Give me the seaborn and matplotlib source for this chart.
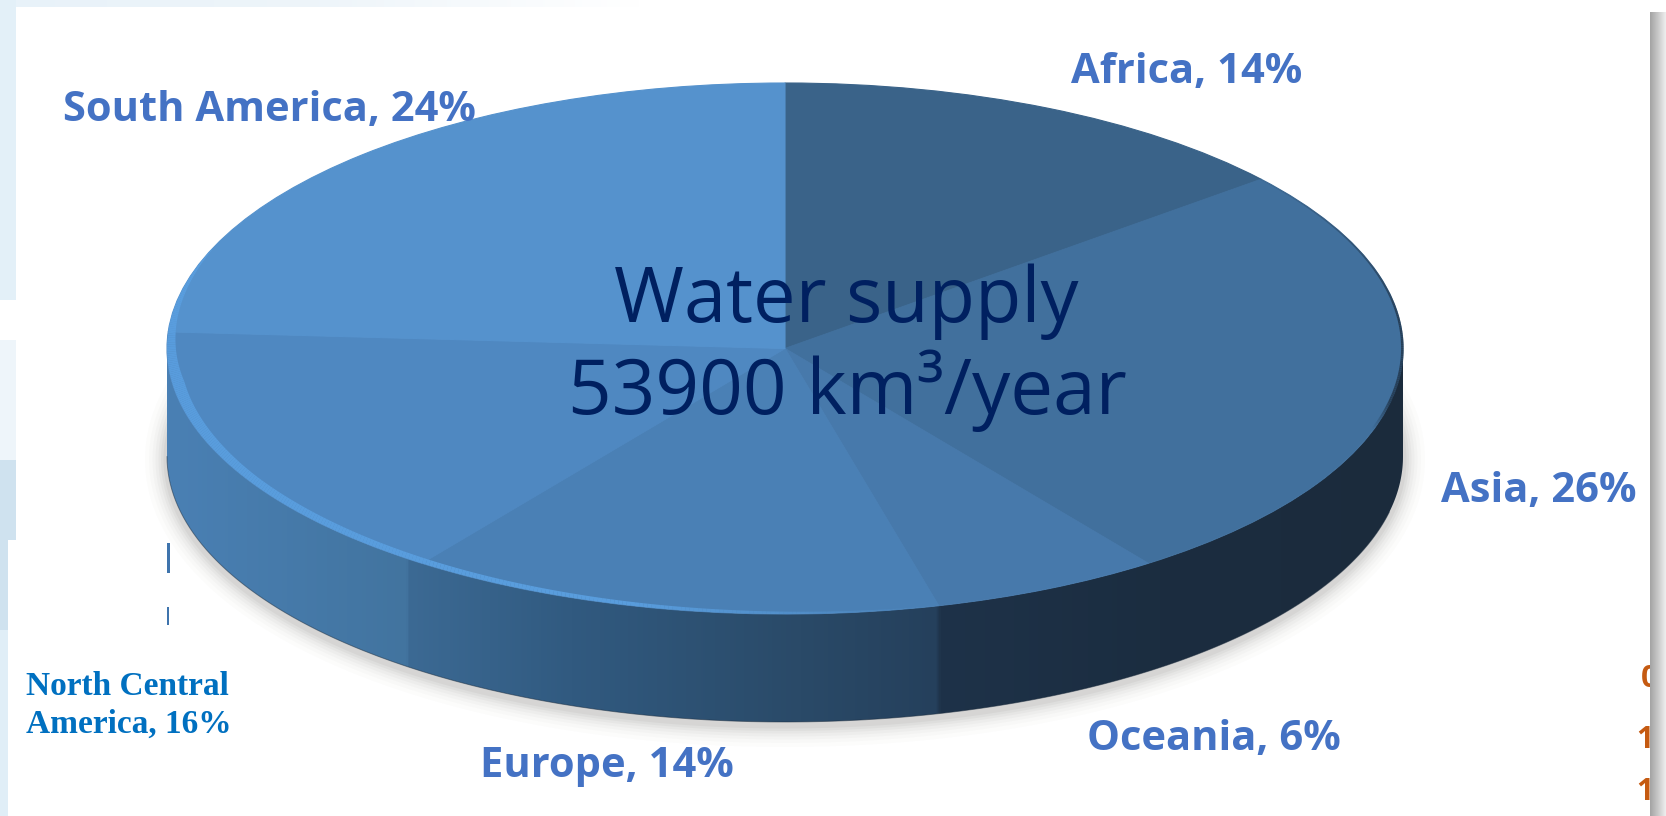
import numpy as np
import pandas as pd
import seaborn as sns
import matplotlib
matplotlib.use("Agg")
import matplotlib.pyplot as plt
from matplotlib.colors import LinearSegmentedColormap
from matplotlib.patches import Polygon, Rectangle
from matplotlib.collections import LineCollection

# ---- data
categories = ["Africa", "Asia", "Oceania", "Europe", "North Central\nAmerica", "South America"]
shares = [14, 26, 6, 14, 16, 24]
center_lines = ["Water supply", "53900 km³/year"]

sns.set_theme(style="white")
plt.rcParams["font.family"] = ["Open Sans", "DejaVu Sans"]

df = pd.DataFrame({"region": categories, "share": shares})

W, H = 1666, 816
CX, CY, RX, RY, DEPTH = 785, 348.5, 618, 265.5, 108


def px_axes(fig, z):
    ax = fig.add_axes([0, 0, 1, 1], zorder=z)
    ax.set_xlim(0, W)
    ax.set_ylim(H, 0)
    ax.axis("off")
    ax.patch.set_alpha(0)
    return ax


def ell(theta_deg, dy=0, k=1.0):
    t = np.radians(theta_deg)
    return CX + k * RX * np.sin(t), CY + dy - k * RY * np.cos(t)


fig = plt.figure(figsize=(W / 100, H / 100), dpi=100, facecolor="white")

# ---- page background
bg = px_axes(fig, 0)
top_cmap = sns.blend_palette(["#e8f2f9", "#eef5fa", "#ffffff"], as_cmap=True)
bg.imshow(np.linspace(0, 1, 256)[None, :], extent=(0, 640, 7, 0), cmap=top_cmap,
          aspect="auto", zorder=1)
bg.add_patch(Rectangle((0, 0), 16, 300, color="#e3f0f8", lw=0, zorder=1))
bg.add_patch(Rectangle((0, 340), 16, 120, color="#eef5fa", lw=0, zorder=1))
bg.add_patch(Rectangle((0, 460), 16, 80, color="#cfe2ef", lw=0, zorder=1))
bg.add_patch(Rectangle((0, 540), 8, 90, color="#cfe2ef", lw=0, zorder=1))
bg.add_patch(Rectangle((0, 630), 8, 186, color="#e0eef7", lw=0, zorder=1))
bg.set_xlim(0, W)
bg.set_ylim(H, 0)

# ---- soft shadow under the puck
th = np.linspace(72, 288, 300)
sx, sy = ell(th, dy=DEPTH)
for lw, a in zip([44, 36, 29, 23, 17, 12, 7], [.02, .025, .03, .04, .05, .06, .07]):
    bg.plot(sx, sy + 3, color="#6e6a64", lw=lw * 0.72, alpha=a, solid_capstyle="round", zorder=2)

# ---- side wall of the puck, shaded across its width
th = np.linspace(90, 270, 300)
tx, ty = ell(th)
bx, by = ell(th, dy=DEPTH)
wall = Polygon(np.r_[np.c_[tx, ty], np.c_[bx, by][::-1]], closed=True,
               transform=bg.transData, fc="none", ec="none")
bg.add_patch(wall)
wall_px = [166, 405, 407, 570, 800, 935, 940, 1160, 1402]
wall_hex = ["#4a80b4", "#42749f", "#3c6a94", "#315a80", "#2a4a68", "#25405c", "#1e3249", "#1b2d40", "#1b2b3c"]
wall_cmap = LinearSegmentedColormap.from_list(
    "wall", [((p - wall_px[0]) / (wall_px[-1] - wall_px[0]), c) for p, c in zip(wall_px, wall_hex)], N=1024)
im = bg.imshow(np.linspace(0, 1, 1236)[None, :], extent=(CX - RX, CX + RX, CY + RY + DEPTH + 2, CY - 2),
               cmap=wall_cmap, aspect="auto", zorder=3)
im.set_clip_path(wall)
bg.plot(bx[20:], by[20:], color="#1b2b3c", lw=0.7, alpha=.5, zorder=4)
bg.set_xlim(0, W)
bg.set_ylim(H, 0)

# ---- top face: the pie itself, squashed through its axes limits
pie_ax = fig.add_axes([0, 0, 1, 1], zorder=1)
slice_colors = sns.blend_palette(["#3a6389", "#41709d", "#4779ab", "#4a80b5", "#4f88c1", "#5592cd"], 6)
wedges, _ = pie_ax.pie(df["share"], colors=slice_colors, startangle=90, counterclock=False,
                       radius=1, center=(0, 0), normalize=True)
for w_, c_ in zip(wedges, slice_colors):
    w_.set_edgecolor(c_)
    w_.set_linewidth(0.8)
pie_ax.set_aspect("auto")
pie_ax.set_xlim(-CX / RX, (W - CX) / RX)
pie_ax.set_ylim((CY - H) / RY, CY / RY)
pie_ax.axis("off")
pie_ax.patch.set_alpha(0)

# ---- overlay: rim light, text, page edge
top = px_axes(fig, 2)

# light rim inside the lower-left edge: widest at the left, narrowing towards the front
th = np.linspace(292, 165, 320)
t = np.radians(th)
ex, ey = ell(th)
nx, ny = np.sin(t) / RX, -np.cos(t) / RY
nn = np.hypot(nx, ny)
nx, ny = nx / nn, ny / nn
w_px = np.interp(th, [165, 185, 215, 240, 262, 280, 292], [0.5, 3, 5.5, 8, 12, 5, 0.5])
pts = np.c_[ex - nx * w_px / 2, ey - ny * w_px / 2]
segs = np.stack([pts[:-1], pts[1:]], axis=1)
rgba = np.tile(matplotlib.colors.to_rgba("#5a9fe0"), (len(segs), 1))
rgba[:, 3] = np.interp(th[:-1], [165, 195, 292], [0, .95, .9])
top.add_collection(LineCollection(segs, colors=rgba, linewidths=w_px[:-1] * 0.72, capstyle="butt"))

# dark rim along the right-hand edge
th = np.linspace(45, 108, 160)
rx_, ry_ = ell(th, k=0.999)
pts = np.c_[rx_, ry_]
segs = np.stack([pts[:-1], pts[1:]], axis=1)
f = np.linspace(0, 1, len(segs))
rgba = np.tile(matplotlib.colors.to_rgba("#1b2b3c"), (len(segs), 1))
rgba[:, 3] = np.clip(np.minimum(f / .6, (1 - f) / .1), 0, 1) * .7
top.add_collection(LineCollection(segs, colors=rgba, linewidths=0.6 + 1.8 * f))

# region labels
label_color = "#4472c4"
label_px = {"Africa": (1071, 83), "Asia": (1441, 502), "Oceania": (1087, 750),
            "Europe": (480, 777), "South America": (63, 121)}
for cat, share in zip(categories, shares):
    if cat in label_px:
        x, y = label_px[cat]
        top.text(x, y, f"{cat}, {share}%", color=label_color, fontsize=30, fontweight="bold",
                 family=["Open Sans", "DejaVu Sans"], ha="left", va="baseline")

# the North Central America label is set differently
ncn, ncs = categories[4].split("\n")
top.text(26, 695, ncn, color="#0070c0", fontsize=24, fontweight="bold",
         family=["Liberation Serif"], ha="left", va="baseline")
top.text(26, 733, f"{ncs}, {shares[4]}%", color="#0070c0", fontsize=24, fontweight="bold",
         family=["Liberation Serif"], ha="left", va="baseline")

# centre text
top.text(846, 322, center_lines[0], color="#002060", fontsize=54.5, ha="center", va="baseline",
         family=["Open Sans", "DejaVu Sans"])
top.text(847, 414, center_lines[1], color="#002060", fontsize=55, ha="center", va="baseline",
         family=["Open Sans", "DejaVu Sans"])

# stray fragments at the panel edges of the source picture
top.add_patch(Rectangle((167, 543), 3, 30, color="#3f74ad", lw=0))
top.add_patch(Rectangle((167, 607), 2.5, 18, color="#3f74ad", lw=0))
clip = Rectangle((1600, 640), 50, 176, transform=top.transData)
for s, xx, yy in zip(["0", "1", "1"], [1641, 1636, 1636], [687, 748, 800]):
    t_ = top.text(xx, yy, s, color="#c55a11", fontsize=22, fontweight="bold", ha="left",
                  va="baseline", family=["Open Sans"])
    t_.set_clip_path(clip)

# gray page edge on the right
edge_cmap = sns.blend_palette(["#a4a4a4", "#c8c8c8", "#eeeeee"], as_cmap=True)
top.imshow(np.linspace(0, 1, 32)[None, :], extent=(1650, 1666, H, 12), cmap=edge_cmap,
           aspect="auto", zorder=5)
top.set_xlim(0, W)
top.set_ylim(H, 0)

fig.savefig("out.png", dpi=100)
